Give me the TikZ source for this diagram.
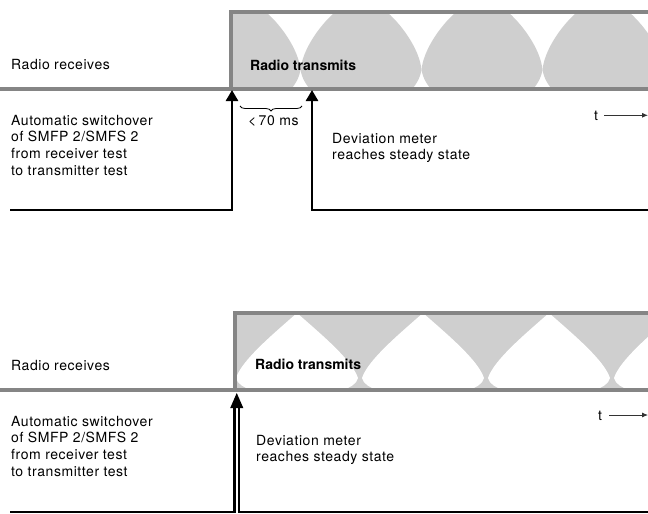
\documentclass[tikz,border=0pt]{standalone}
\usepackage{fontspec}
\setmainfont[LetterSpace=4]{TeX Gyre Heros}
\newfontfamily\boldheros[LetterSpace=0]{TeX Gyre Heros Bold}
\usetikzlibrary{arrows.meta,decorations.pathreplacing}
\begin{document}
\begin{tikzpicture}[x=1pt,y=-1pt,
  lbl/.style={anchor=base west, inner sep=0pt, font=\fontsize{14}{16}\selectfont},
  boldlbl/.style={anchor=base west, inner sep=0pt, font=\fontsize{14}{16}\selectfont\boldheros},
  grayline/.style={draw=black!48, line width=3.5pt},
  sigline/.style={draw=black, line width=2.6pt, line join=miter},
  lobe/.style={fill=black!19},
  uptip/.style={-{Triangle[width=12pt,length=11pt]}},
  tarrow/.style={draw=black!80, line width=0.8pt, -{Latex[length=6pt,width=5pt]}}]
\useasboundingbox (0,0) rectangle (648,514);

% ---------------- upper diagram ----------------
\begin{scope}
  \clip (231,12) rectangle (648,89);
  \foreach \c in {240,361,482,603}{
    \fill[lobe] ({\c-26},12) -- ({\c+26},12)
      .. controls ({\c+44},28) and ({\c+59},52) .. ({\c+60.5},70)
      .. controls ({\c+59},78) and ({\c+55},85) .. ({\c+51},89)
      -- ({\c-51},89)
      .. controls ({\c-55},85) and ({\c-59},78) .. ({\c-60.5},70)
      .. controls ({\c-59},52) and ({\c-44},28) .. ({\c-26},12) -- cycle;
  }
\end{scope}
\coordinate (gA1) at (0,89);
\coordinate (gA2) at (648,89);
\coordinate (bA1) at (648,12);
\coordinate (bA2) at (231,12);
\coordinate (bA3) at (231,89);
\draw[grayline] (gA1) -- (gA2);
\draw[grayline] (bA1) -- (bA2) -- (bA3);

\coordinate (sA1) at (10,210);
\coordinate (sA2) at (232,210);
\coordinate (tA1) at (232,90);
\coordinate (sA3) at (648,210);
\coordinate (sA4) at (312,210);
\coordinate (tA2) at (312,90);
\draw[sigline, uptip] (sA1) -- (sA2) -- (tA1);
\draw[sigline, uptip] (sA3) -- (sA4) -- (tA2);

\coordinate (brL) at (240,106);
\coordinate (brR) at (302,106);
\draw[decorate, decoration={brace, mirror, amplitude=5pt}, line width=0.8pt] (brL) -- (brR);
\node[lbl] (lt) at (248,125.5) {<\,70 ms};

\node[lbl] (rr1) at (11,69) {Radio receives};
\node[boldlbl] (rt1) at (250,70) {Radio transmits};
\node[lbl] (a1) at (11,125) {Automatic switchover};
\node[lbl] (a2) at (11,141.7) {of SMFP 2/SMFS 2};
\node[lbl] (a3) at (11,158.3) {from receiver test};
\node[lbl] (a4) at (11,175) {to transmitter test};
\node[lbl] (d1) at (332,143) {Deviation meter};
\node[lbl] (d2) at (332,159) {reaches steady state};
\node[lbl] (t1) at (594,120) {t};
\coordinate (te1) at (648,115.3);
\draw[tarrow] ([xshift=6pt]t1.east |- te1) -- (te1);

% ---------------- lower diagram ----------------
\begin{scope}
  \clip (235,313) rectangle (648,390);
  \fill[lobe] (235,313) rectangle (648,390);
  \foreach \c in {297,423,549,675}{
    \fill[white] (\c,313)
      .. controls ({\c+25},335) and ({\c+55},360) .. ({\c+61},378)
      .. controls ({\c+60},384) and ({\c+52},388) .. ({\c+46},390)
      -- ({\c-46},390)
      .. controls ({\c-52},388) and ({\c-60},384) .. ({\c-61},378)
      .. controls ({\c-55},360) and ({\c-25},335) .. (\c,313) -- cycle;
  }
\end{scope}
\coordinate (gB1) at (0,390);
\coordinate (gB2) at (648,390);
\coordinate (bB1) at (648,313);
\coordinate (bB2) at (235,313);
\coordinate (bB3) at (235,390);
\draw[grayline] (gB1) -- (gB2);
\draw[grayline] (bB1) -- (bB2) -- (bB3);

\coordinate (sB1) at (10,512);
\coordinate (sB2) at (234.5,512);
\coordinate (sB3) at (239,512);
\coordinate (sB4) at (648,512);
\coordinate (uB1) at (234.5,405);
\coordinate (uB2) at (239,405);
\draw[line width=2.2pt] (sB1) -- (sB2) -- (uB1);
\draw[line width=2.2pt] (sB4) -- (sB3) -- (uB2);
\coordinate (hB1) at (230.2,408);
\coordinate (hB2) at (236.75,393);
\coordinate (hB3) at (243.3,408);
\fill (hB1) -- (hB2) -- (hB3) -- cycle;

\node[lbl] (rr2) at (11,370) {Radio receives};
\node[boldlbl] (rt2) at (255,369) {Radio transmits};
\node[lbl] (b1) at (11,426) {Automatic switchover};
\node[lbl] (b2) at (11,442.7) {of SMFP 2/SMFS 2};
\node[lbl] (b3) at (11,459.3) {from receiver test};
\node[lbl] (b4) at (11,476) {to transmitter test};
\node[lbl] (e1) at (256,445.5) {Deviation meter};
\node[lbl] (e2) at (256,461.5) {reaches steady state};
\node[lbl] (t2) at (598,420) {t};
\coordinate (te2) at (648,415);
\draw[tarrow] ([xshift=7pt]t2.east |- te2) -- (te2);
\end{tikzpicture}
\end{document}
